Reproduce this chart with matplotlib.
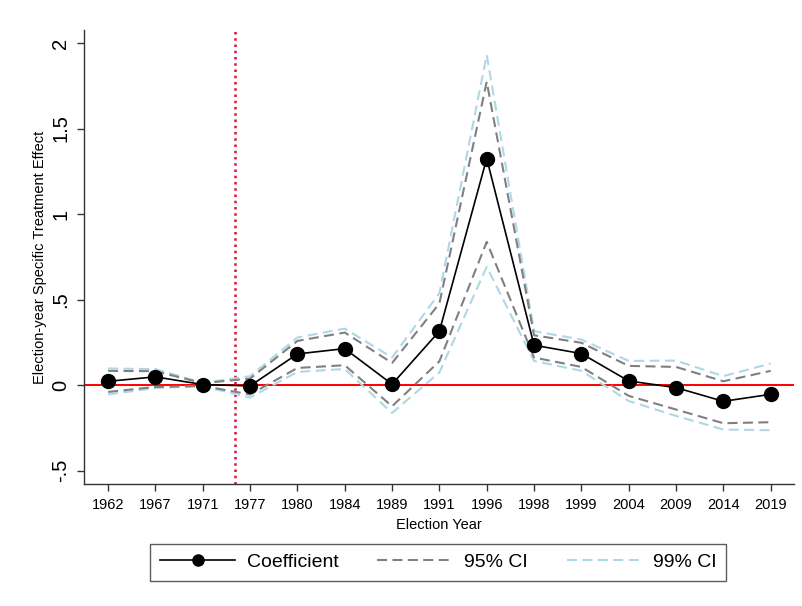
import matplotlib
matplotlib.use("Agg")
import matplotlib.pyplot as plt
from matplotlib.lines import Line2D

plt.rcParams['font.family'] = ['Liberation Sans', 'DejaVu Sans']

years = ["1962", "1967", "1971", "1977", "1980", "1984", "1989", "1991",
         "1996", "1998", "1999", "2004", "2009", "2014", "2019"]
coef = [0.023, 0.049, 0.004, -0.004, 0.183, 0.214, 0.006, 0.316,
        1.325, 0.234, 0.185, 0.025, -0.014, -0.094, -0.053]
ci95_hi = [0.084, 0.082, 0.012, 0.039, 0.259, 0.308, 0.130, 0.478,
           1.774, 0.292, 0.248, 0.113, 0.107, 0.023, 0.084]
ci95_lo = [-0.039, -0.010, -0.004, -0.054, 0.101, 0.117, -0.123, 0.140,
           0.838, 0.162, 0.107, -0.062, -0.142, -0.222, -0.216]
ci99_hi = [0.098, 0.094, 0.014, 0.053, 0.279, 0.331, 0.162, 0.538,
           1.930, 0.316, 0.267, 0.142, 0.144, 0.053, 0.127]
ci99_lo = [-0.054, -0.016, -0.006, -0.072, 0.078, 0.095, -0.162, 0.075,
           0.692, 0.142, 0.084, -0.092, -0.179, -0.259, -0.263]
yticks = [-0.5, 0, 0.5, 1, 1.5, 2]
ytick_labels = ["-.5", "0", ".5", "1", "1.5", "2"]
treatment_pos = 2.69  # policy change between the 1971 and 1977 elections

x = list(range(len(years)))

fig = plt.figure(figsize=(8.03, 6.06), dpi=100)
ax = fig.add_axes([0.1046, 0.2008, 0.8846, 0.7497])

gray = "#808080"
blue = "#add8e6"
dash = (4.8, 2.6)

ax.plot(x, ci99_hi, color=blue, lw=1.5, dashes=dash, zorder=2)
ax.plot(x, ci99_lo, color=blue, lw=1.5, dashes=dash, zorder=2)
ax.plot(x, ci95_hi, color=gray, lw=1.5, dashes=dash, zorder=3)
ax.plot(x, ci95_lo, color=gray, lw=1.5, dashes=dash, zorder=3)
ax.axhline(0, color="#ff0000", lw=1.4, zorder=1)
ax.axvline(treatment_pos, color="#dc143c", lw=1.8, ls=(0, (1, 1.5)), zorder=1)
ax.plot(x, coef, color="black", lw=1.2, marker="o", ms=10, zorder=5)

ax.set_xlim(-0.51, 14.5)
ax.set_ylim(-0.579, 2.076)
ax.set_xticks(x)
ax.set_xticklabels(years, fontsize=10.5)
ax.set_yticks(yticks)
ax.set_yticklabels(ytick_labels, fontsize=14.5, rotation=90, va="center")
ax.tick_params(axis="both", direction="out", length=5, width=1, color="#333333")
ax.tick_params(axis="y", pad=5)
ax.tick_params(axis="x", pad=5)
for side in ("top", "right"):
    ax.spines[side].set_visible(False)
for side in ("left", "bottom"):
    ax.spines[side].set_linewidth(1)
    ax.spines[side].set_color("#333333")

ax.set_xlabel("Election Year", fontsize=10.5, labelpad=4)
ax.set_ylabel("Election-year Specific Treatment Effect", fontsize=10.5, labelpad=3)

handles = [
    Line2D([], [], color="black", lw=1.2, marker="o", ms=8),
    Line2D([], [], color=gray, lw=1.5, dashes=dash),
    Line2D([], [], color=blue, lw=1.5, dashes=dash),
]
leg = fig.legend(handles, ["Coefficient", "95% CI", "99% CI"], ncol=3,
                 loc="center", bbox_to_anchor=(0.546, 0.0718),
                 fontsize=14, frameon=True, fancybox=False,
                 handlelength=3.85, columnspacing=2.0, handletextpad=0.6,
                 borderpad=0.5, borderaxespad=0, numpoints=1)
leg.get_frame().set_edgecolor("#333333")
leg.get_frame().set_linewidth(1)

fig.savefig("out.png", dpi=100)
